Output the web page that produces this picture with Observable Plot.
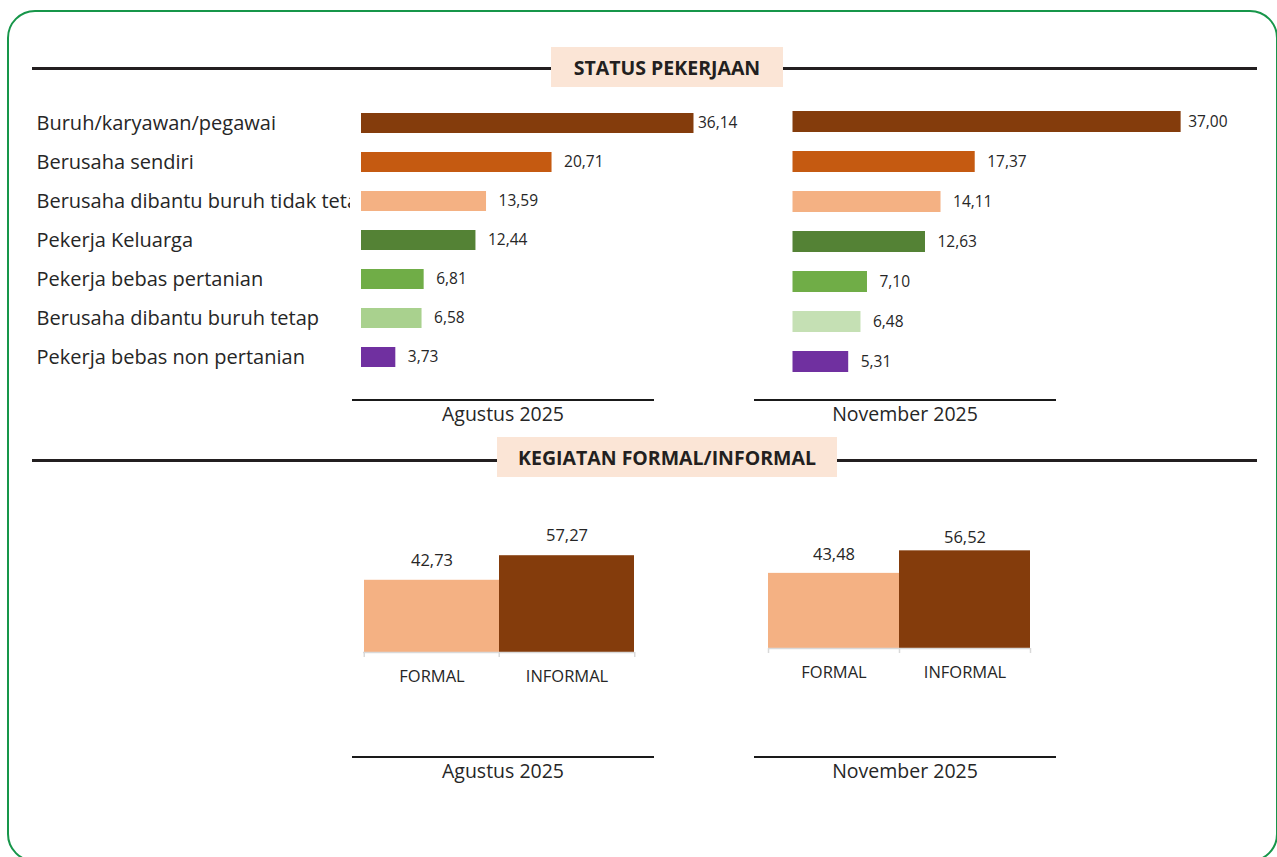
<!DOCTYPE html>
<html>
<head>
<meta charset="utf-8">
<script src="https://cdn.jsdelivr.net/npm/d3@7"></script>
<script src="https://cdn.jsdelivr.net/npm/@observablehq/plot@0.6"></script>
<style>
  html, body { margin: 0; padding: 0; background: #fff; overflow: hidden; }
  body { width: 1277px; height: 857px; position: relative; font-family: "Open Sans", Lato, sans-serif; color: #262626; }
  .abs { position: absolute; }
  .frame { left: 7px; top: 10px; width: 1271px; height: 852px; box-sizing: border-box; border: 2.5px solid #17964a; border-radius: 28px; }
  .hline { background: #231f20; height: 2.5px; }
  .titlebox { background: #fbe5d6; font-weight: 700; font-size: 19.5px; color: #231f20; display: flex; align-items: center; justify-content: center; }
  .period { font-size: 19.5px; line-height: 26px; text-align: center; color: #262626; }
  .pline { background: #1a1a1a; height: 2px; }
  svg { overflow: visible; }
</style>
</head>
<body>
<div class="abs frame"></div>
<div id="root"></div>
<script>
// ---- data ----
const categories = [
  "Buruh/karyawan/pegawai",
  "Berusaha sendiri",
  "Berusaha dibantu buruh tidak tetap",
  "Pekerja Keluarga",
  "Pekerja bebas pertanian",
  "Berusaha dibantu buruh tetap",
  "Pekerja bebas non pertanian"
];
const statusAug = [36.14, 20.71, 13.59, 12.44, 6.81, 6.58, 3.73];
const statusNov = [37.00, 17.37, 14.11, 12.63, 7.10, 6.48, 5.31];
const colorsAug = ["#843c0c", "#c55a11", "#f4b183", "#548235", "#70ad47", "#a9d18e", "#7030a0"];
const colorsNov = ["#843c0c", "#c55a11", "#f4b183", "#548235", "#70ad47", "#c5e0b4", "#7030a0"];
const sectors = ["FORMAL", "INFORMAL"];
const sectorAug = [42.73, 57.27];
const sectorNov = [43.48, 56.52];
const sectorColors = ["#f4b183", "#843c0c"];
const periods = ["Agustus 2025", "November 2025"];
const sectionTitles = ["STATUS PEKERJAAN", "KEGIATAN FORMAL/INFORMAL"];

const fmt = v => d3.format(".2f")(v).replace(".", ",");
const root = document.getElementById("root");
const FONT = "'Open Sans', Lato, sans-serif";

function place(el, left, top) {
  el.style.position = "absolute";
  el.style.left = left + "px";
  el.style.top = top + "px";
  root.appendChild(el);
}
function div(cls, css, text) {
  const d = document.createElement("div");
  d.className = "abs " + cls;
  Object.assign(d.style, css);
  if (text != null) d.textContent = text;
  root.appendChild(d);
  return d;
}

// ---- section headers ----
div("hline", {left: "32px", top: "67px", width: "1225px"});
div("titlebox", {left: "551px", top: "47px", width: "232px", height: "40px"}, sectionTitles[0]);
div("hline", {left: "32px", top: "459px", width: "1225px"});
div("titlebox", {left: "497px", top: "437px", width: "340px", height: "40px"}, sectionTitles[1]);

// ---- horizontal bar charts ----
const rowsAug = categories.map((c, i) => ({cat: c, value: statusAug[i], color: colorsAug[i], first: i === 0}));
const rowsNov = categories.map((c, i) => ({cat: c, value: statusNov[i], color: colorsNov[i], first: i === 0}));

const augH = Plot.plot({
  width: 700, height: 330,
  marginLeft: 0, marginRight: 350, marginTop: 0, marginBottom: 0,
  style: {fontFamily: FONT, background: "transparent", overflow: "visible"},
  x: {domain: [0, 40], range: [361, 729], axis: null},
  y: {domain: categories, range: [12.8, 306.2], padding: 0.49, axis: null},
  color: {type: "identity"},
  marks: [
    Plot.barX(rowsAug, {x: "value", y: "cat", fill: "color"}),
    Plot.text(rowsAug, {y: "cat", text: "cat", frameAnchor: "left", textAnchor: "start", dx: 36, fontSize: 20, fill: "#262626", clip: true}),
    Plot.text(rowsAug.filter(d => d.first), {x: "value", y: "cat", text: d => fmt(d.value), textAnchor: "start", dx: 4, fontSize: 15.5, fill: "#262626"}),
    Plot.text(rowsAug.filter(d => !d.first), {x: "value", y: "cat", text: d => fmt(d.value), textAnchor: "start", dx: 12, fontSize: 15.5, fill: "#262626"})
  ]
});
place(augH, 0, 80);

const novH = Plot.plot({
  width: 577, height: 330,
  marginLeft: 0, marginRight: 0, marginTop: 0, marginBottom: 0,
  style: {fontFamily: FONT, background: "transparent", overflow: "visible"},
  x: {domain: [0, 40], range: [92.5, 512.1], axis: null},
  y: {domain: categories, range: [9.24, 314.26], padding: 0.485, axis: null},
  color: {type: "identity"},
  marks: [
    Plot.barX(rowsNov, {x: "value", y: "cat", fill: "color"}),
    Plot.text(rowsNov.filter(d => d.first), {x: "value", y: "cat", text: d => fmt(d.value), textAnchor: "start", dx: 7, fontSize: 15.5, fill: "#262626"}),
    Plot.text(rowsNov.filter(d => !d.first), {x: "value", y: "cat", text: d => fmt(d.value), textAnchor: "start", dx: 12, fontSize: 15.5, fill: "#262626"})
  ]
});
place(novH, 700, 80);

// period lines & labels (top)
div("pline", {left: "352px", top: "399px", width: "302px"});
div("pline", {left: "754px", top: "399px", width: "302px"});
div("period", {left: "352px", top: "401px", width: "302px"}, periods[0]);
div("period", {left: "754px", top: "401px", width: "302px"}, periods[1]);

// ---- vertical bar charts ----
function sectorChart(values, width, mL, mR, yBottom, pxPerUnit, dys) {
  const rows = sectors.map((s, i) => ({sector: s, value: values[i], color: sectorColors[i], dy: dys[i]}));
  const bw = (width - mL - mR) / sectors.length;
  return Plot.plot({
    width, height: 200,
    marginLeft: mL, marginRight: mR, marginTop: 0, marginBottom: 200 - yBottom,
    style: {fontFamily: FONT, background: "transparent", overflow: "visible"},
    x: {domain: sectors, padding: 0, axis: null},
    y: {domain: [0, 60], range: [yBottom, yBottom - 60 * pxPerUnit], axis: null},
    color: {type: "identity"},
    marks: [
      Plot.barY(rows, {x: "sector", y: "value", fill: "color"}),
      Plot.ruleY([0], {stroke: "#d9d9d9", strokeWidth: 1.5}),
      Plot.ruleX(rows, {x: "sector", y1: 0, y2: 0, insetBottom: -5, dx: -bw / 2, stroke: "#d9d9d9", strokeWidth: 1.5}),
      Plot.ruleX(rows.slice(-1), {x: "sector", y1: 0, y2: 0, insetBottom: -5, dx: bw / 2, stroke: "#d9d9d9", strokeWidth: 1.5}),
      ...rows.map(r => Plot.text([r], {x: "sector", y: "value", text: d => fmt(d.value), dy: r.dy, fontSize: 16.5, fill: "#262626"})),
      Plot.text(rows, {x: "sector", y: 0, text: "sector", dy: 24, fontSize: 16.5, fill: "#262626"})
    ]
  });
}
place(sectorChart(sectorAug, 320, 23, 26, 152, 1.69, [-20, -20]), 340, 500);
place(sectorChart(sectorNov, 310, 23, 25, 148, 1.728, [-19, -13]), 745, 500);

// period lines & labels (bottom)
div("pline", {left: "352px", top: "756px", width: "302px"});
div("pline", {left: "754px", top: "756px", width: "302px"});
div("period", {left: "352px", top: "758px", width: "302px"}, periods[0]);
div("period", {left: "754px", top: "758px", width: "302px"}, periods[1]);
</script>
</body>
</html>
